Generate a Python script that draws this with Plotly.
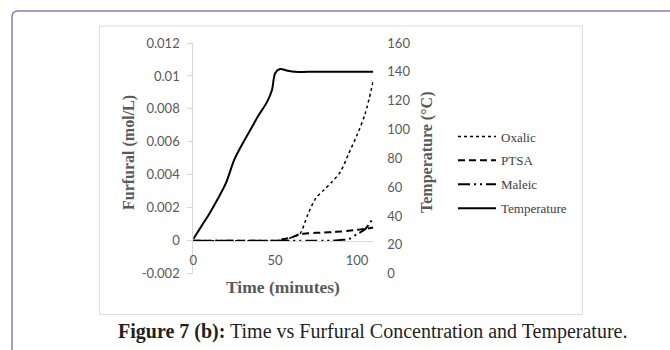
import plotly.graph_objects as go

# ---- data ----
temp_time = [0, 5, 10, 15, 20, 25, 30, 35, 40, 45, 48, 50, 53, 57, 62, 70, 80, 90, 100, 110]
temperature = [24, 33, 42, 52, 63, 79, 90, 100, 110, 119, 127, 139, 142, 141, 140, 140, 140, 140, 140, 140]

conc_time = [0, 5, 10, 15, 20, 25, 30, 35, 40, 45, 50, 55, 60, 65, 70, 75, 80, 85, 90, 95, 100, 105, 110]
oxalic = [0, 0, 0, 0, 0, 0, 0, 0, 0, 0, 0, 0.00005, 0.0002, 0.0004, 0.0016, 0.0026, 0.0031, 0.0036, 0.0042, 0.0053, 0.0064, 0.0077, 0.0097]
ptsa = [0, 0, 0, 0, 0, 0, 0, 0, 0, 0, 0, 0.0001, 0.0002, 0.0004, 0.00045, 0.00048, 0.0005, 0.00052, 0.00056, 0.0006, 0.00066, 0.00072, 0.0008]
maleic = [0, 0, 0, 0, 0, 0, 0, 0, 0, 0, 0, 0, 0, 0, 0, 0, 0, 0, 0.00005, 0.0001, 0.0004, 0.0007, 0.0014]

x_ticks = [0, 50, 100]
y_ticks = [-0.002, 0, 0.002, 0.004, 0.006, 0.008, 0.01, 0.012]
y_tick_text = ["-0.002", "0", "0.002", "0.004", "0.006", "0.008", "0.01", "0.012"]
y2_ticks = [0, 20, 40, 60, 80, 100, 120, 140, 160]

W, H = 670, 350
def px(x):
    return x / W
def py(y):
    return 1 - y / H

SERIF = "Liberation Serif"
SANS = "Lato"
GRAY = "#595959"
AXIS = "#d9d9d9"

fig = go.Figure()
fig.add_trace(go.Scatter(x=conc_time, y=oxalic, name="Oxalic", mode="lines",
                         line=dict(color="black", width=1.5, dash="dot", shape="spline", smoothing=0.8),
                         legendgroup="a"))
fig.add_trace(go.Scatter(x=conc_time, y=ptsa, name="PTSA", mode="lines",
                         line=dict(color="black", width=2, dash="7px,4px", shape="spline", smoothing=0.8),
                         legendgroup="b"))
fig.add_trace(go.Scatter(x=conc_time, y=maleic, name="Maleic", mode="lines",
                         line=dict(color="black", width=2, dash="12px,4px,2px,4px,2px,4px", shape="spline", smoothing=0.8),
                         legendgroup="c"))
fig.add_trace(go.Scatter(x=temp_time, y=temperature, name="Temperature", mode="lines", yaxis="y2",
                         line=dict(color="black", width=2, shape="spline", smoothing=0.8),
                         legendgroup="d"))

y_top, y_bot = 43, 273.7
yr = [-0.002, 0.012]
zero_px = y_bot - (0 - yr[0]) / (yr[1] - yr[0]) * (y_bot - y_top)

fig.update_layout(
    width=W, height=H,
    margin=dict(l=0, r=0, t=0, b=0),
    paper_bgcolor="white", plot_bgcolor="white",
    showlegend=True,
    legend=dict(x=px(453), y=py(121.5), xanchor="left", yanchor="top",
                font=dict(family=SERIF, size=13, color="#404040"),
                itemwidth=38, tracegroupgap=4, traceorder="grouped",
                bgcolor="rgba(0,0,0,0)"),
    xaxis=dict(domain=[px(193.3), px(373.3)], range=[0, 110], tickvals=x_ticks,
               anchor="free", position=py(zero_px),
               showline=True, linecolor=AXIS, linewidth=1, ticks="", showgrid=False,
               zeroline=False, tickfont=dict(family=SANS, size=13, color=GRAY),
               ticklabelstandoff=8, automargin=False),
    yaxis=dict(domain=[py(y_bot), py(y_top)], range=yr, tickvals=y_ticks, ticktext=y_tick_text,
               showline=True, linecolor=AXIS, linewidth=1, ticks="outside", ticklen=5,
               tickcolor=AXIS, showgrid=False, zeroline=False,
               tickfont=dict(family=SANS, size=13, color=GRAY), ticklabelstandoff=5,
               automargin=False),
    yaxis2=dict(overlaying="y", side="right", range=[0, 160], tickvals=y2_ticks,
                showline=False, ticks="", showgrid=False, zeroline=False, anchor="x",
                tickfont=dict(family=SANS, size=13, color=GRAY), ticklabelstandoff=13,
                automargin=False),
)

def label(text, x, y, size, color, angle=0):
    fig.add_annotation(text=text, x=px(x), y=py(y), xref="paper", yref="paper",
                       xanchor="center", yanchor="middle", textangle=angle, showarrow=False,
                       font=dict(family=SERIF, size=size, color=color))

# axis titles
label("<b>Furfural (mol/L)</b>", 129, 153, 16, GRAY, -90)
label("<b>Temperature (°C)</b>", 427, 153, 16, GRAY, -90)
label("<b>Time (minutes)</b>", 283, 287, 17.5, GRAY)

# caption
label("<b>Figure 7 (b):</b> Time vs Furfural Concentration and Temperature.", 372, 331, 20, "#231f20")

# frames
fig.add_shape(type="rect", xref="paper", yref="paper", x0=px(99.5), x1=px(582.5), y0=py(314.5), y1=py(26),
              line=dict(color="#dcdcdc", width=1), layer="below")
r = 6
x0, y0 = 12, 11
path = (f"M {px(x0)} {py(H + 5)} L {px(x0)} {py(y0 + r)} "
        f"Q {px(x0)} {py(y0)} {px(x0 + r)} {py(y0)} L {px(W + 5)} {py(y0)}")
fig.add_shape(type="path", xref="paper", yref="paper", path=path,
              line=dict(color="#8080b8", width=1.5), layer="below")

fig.write_html("out.html")
